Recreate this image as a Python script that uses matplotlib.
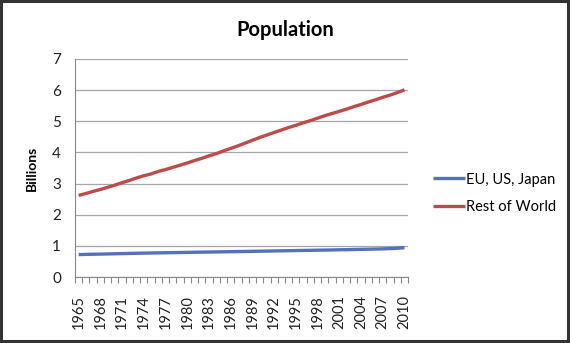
import numpy as np
import matplotlib.pyplot as plt
from matplotlib.patches import Rectangle

plt.rcParams['font.family'] = ['Lato', 'DejaVu Sans']

# years on the category axis (1965-2010)
years = list(range(1965, 2011))

# population, billions
eu_us_japan = [0.720, 0.726, 0.731, 0.736, 0.741, 0.746, 0.752, 0.757, 0.762, 0.767,
               0.771, 0.775, 0.779, 0.783, 0.787, 0.791, 0.795, 0.799, 0.802, 0.806,
               0.809, 0.813, 0.817, 0.821, 0.825, 0.829, 0.833, 0.837, 0.841, 0.845,
               0.849, 0.853, 0.857, 0.861, 0.865, 0.869, 0.874, 0.878, 0.883, 0.888,
               0.893, 0.898, 0.904, 0.912, 0.925, 0.940]
rest_of_world = [2.62, 2.68, 2.75, 2.81, 2.88, 2.95, 3.03, 3.10, 3.18, 3.25,
                 3.31, 3.39, 3.45, 3.52, 3.59, 3.66, 3.74, 3.81, 3.89, 3.96,
                 4.05, 4.13, 4.21, 4.30, 4.39, 4.48, 4.56, 4.64, 4.72, 4.80,
                 4.87, 4.95, 5.02, 5.10, 5.18, 5.25, 5.32, 5.39, 5.47, 5.54,
                 5.62, 5.69, 5.77, 5.84, 5.92, 6.01]

fig = plt.figure(figsize=(5.7, 3.43), dpi=100)
ax = fig.add_axes([0.1316, 0.1924, 0.5844, 0.6356])

x = np.arange(len(years))
ax.plot(x, eu_us_japan, color='#5470C0', lw=2.4, label='EU, US, Japan', solid_capstyle='butt')
ax.plot(x, rest_of_world, color='#BE4B48', lw=2.4, label='Rest of World', solid_capstyle='butt')

ax.set_xlim(-0.5, len(years) - 0.5)
ax.set_ylim(0, 7)
ax.set_yticks(range(0, 8))
ax.tick_params(axis='y', length=0, labelsize=11, pad=10, colors='#222222')

# tick marks between categories, labels every 3rd year
ax.set_xticks(np.arange(-0.5, len(years), 1.0), minor=True)
ax.set_xticks(x[::3])
ax.set_xticklabels([str(y) for y in years[::3]], rotation=90, fontsize=10.5, color='#222222')
ax.tick_params(axis='x', which='major', length=0, pad=13)
ax.tick_params(axis='x', which='minor', length=4, color='#888888', width=0.8)

ax.grid(axis='y', color='#A6A6A6', lw=0.9)
ax.set_axisbelow(True)
for s in ['top', 'right']:
    ax.spines[s].set_visible(False)
ax.spines['left'].set_color('#888888')
ax.spines['bottom'].set_color('#888888')

ax.set_ylabel('Billions', fontsize=10, fontweight='bold', labelpad=10)
fig.text(0.5, 0.912, 'Population', ha='center', va='center', fontsize=14.5, fontweight='bold')

ax.legend(loc='center left', bbox_to_anchor=(1.075, 0.385), frameon=False,
          fontsize=10.5, handlelength=2.2, handletextpad=0.05, labelspacing=0.9,
          borderpad=0, borderaxespad=0)

# dark frame round the picture
fig.patches.append(Rectangle((0.002, 0.006), 0.994, 0.99, transform=fig.transFigure,
                             fill=False, edgecolor='#333333', lw=2.2))

fig.savefig('out.png', dpi=100)
